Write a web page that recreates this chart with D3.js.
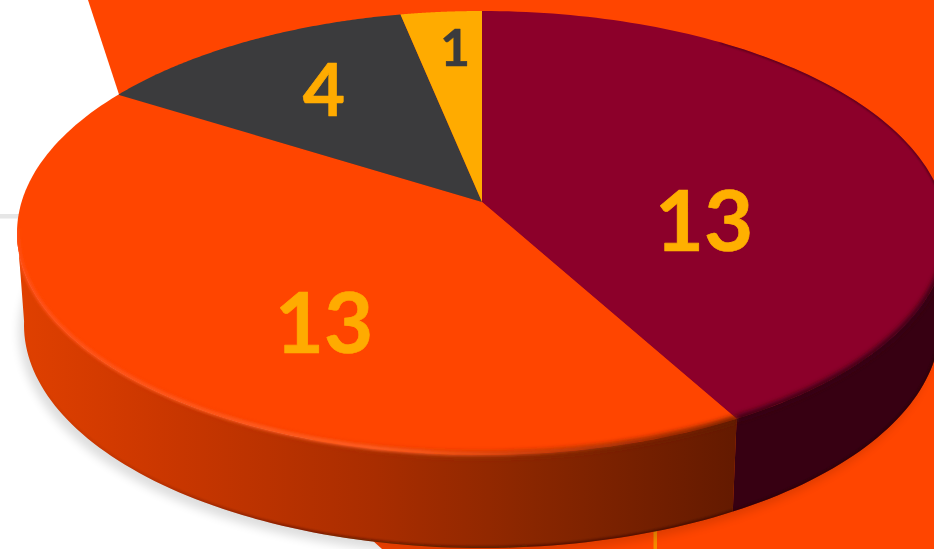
<!DOCTYPE html>
<html>
<head>
<meta charset="utf-8">
<style>
  html, body { margin: 0; padding: 0; background: #fff; overflow: hidden; }
  svg { display: block; }
  .lbl { font-family: Lato, sans-serif; font-weight: 700; text-anchor: middle; stroke-linejoin: round; }
</style>
</head>
<body>
<div id="chart"></div>
<script src="https://cdn.jsdelivr.net/npm/d3@7"></script>
<script>
// data
const categories = ['A', 'B', 'C', 'D'];
const values = [13, 13, 4, 1];

// styles, same order as the values
const topColors = ['#8c002a', '#ff4500', '#3b3b3d', '#ffab00'];
const labelColors = ['#ffb000', '#ffab00', '#ffab00', '#3b3b3d'];
const labelSizes = [85, 85, 73, 52];
const labelAt = [[704, 251], [324, 353], [324, 116], [455, 66]];

const width = 934, height = 549;

const svg = d3.select('#chart').append('svg')
    .attr('width', width)
    .attr('height', height);

const defs = svg.append('defs');

function blur(id, dev) {
    defs.append('filter')
        .attr('id', id)
        .attr('x', '-10%').attr('y', '-10%')
        .attr('width', '120%').attr('height', '120%')
        .append('feGaussianBlur')
        .attr('stdDeviation', dev);
}
blur('b1', 0.8);
blur('b15', 1.5);
blur('b2', 2.5);
blur('b5', 5);

function hGradient(id, stops) {
    const g = defs.append('linearGradient')
        .attr('id', id)
        .attr('gradientUnits', 'userSpaceOnUse')
        .attr('x1', 17).attr('x2', 733).attr('y1', 0).attr('y2', 0);
    stops.forEach(s => g.append('stop')
        .attr('offset', s[0])
        .attr('stop-color', s[1])
        .attr('stop-opacity', s[2] === undefined ? 1 : s[2]));
}
hGradient('sideOrange', [[0, '#e04000'], [0.2, '#cb3700'], [0.5, '#a92d00'], [0.72, '#892600'], [1, '#641a00']]);
hGradient('bevelFade', [[0, '#d23a00', 0], [0.45, '#b83200', 0.25], [0.7, '#892600', 0.9], [1, '#641a00', 1]]);
hGradient('shine', [[0, '#ff5015', 1], [0.5, '#ff6026', 1], [0.8, '#ff5a1c', 0.25], [1, '#ff5a1c', 0]]);
hGradient('edgeShade', [[0, '#3a0f00', 0], [0.2, '#3a0f00', 0.15], [0.5, '#3a0f00', 0.55], [1, '#2a0a00', 0.5]]);

// the disc is seen in perspective: the top face and the bottom face are two ellipses
const topX = d3.scaleLinear().domain([-1, 1]).range([17, 947]);
const topY = d3.scaleLinear().domain([-1, 1]).range([11, 455]);
const botX = d3.scaleLinear().domain([-1, 1]).range([24, 940]);
const botY = d3.scaleLinear().domain([-1, 1]).range([102, 548]);

// pie centre is pushed up the disc by this much
const tilt = 0.14;

function project(angle, r) {
    const x = Math.sin(angle) * r, y = -Math.cos(angle) * r;
    const d = 1 - tilt * y;
    return [x * Math.sqrt(1 - tilt * tilt) / d, (y - tilt) / d];
}

const pie = d3.pie().sort(null).value(d => d);
const arcs = pie(values);

function sampleArc(a) {
    return d3.range(0, 121).map(i => project(a.startAngle + (a.endAngle - a.startAngle) * i / 120, 1));
}

const topLine = d3.line().x(d => topX(d[0])).y(d => topY(d[1]));
const botLine = d3.line().x(d => botX(d[0])).y(d => botY(d[1]));

// what is left of the other chart behind this one
svg.append('rect')
    .attr('x', 0).attr('y', 214).attr('width', 30).attr('height', 4.5)
    .attr('fill', '#e6e6e6');
svg.append('path')
    .attr('d', 'M88,0L934,0L934,549L382,549L372,540L130,128Z')
    .attr('fill', '#ff4500');
svg.append('rect')
    .attr('x', 653.5).attr('y', 530).attr('width', 3.5).attr('height', 19)
    .attr('fill', '#f58a00');

// shadow under the disc
const allPts = sampleArc({ startAngle: 0, endAngle: 2 * Math.PI });
svg.append('path')
    .attr('d', botLine(allPts) + 'Z')
    .attr('transform', 'translate(-5,7)')
    .attr('fill', '#000')
    .attr('opacity', 0.13)
    .attr('filter', 'url(#b5)');

// side wall, only the part of each slice on the near half
const sideFill = ['#370012', 'url(#sideOrange)'];
const bevelFill = ['#370012', 'url(#bevelFade)'];
const nearPts = arcs.map(a => sampleArc(a).filter(p => p[1] >= -0.02));
const wallPath = pts => topLine(pts) + 'L' + botLine(pts.slice().reverse()).slice(1) + 'Z';

nearPts.forEach((pts, i) => {
    if (!pts.length) return;
    svg.append('path')
        .attr('d', wallPath(pts))
        .attr('fill', sideFill[i]);
});

// clip for the blurred strokes, so they stay on the disc
const wallClip = defs.append('clipPath').attr('id', 'wall');
const discClip = defs.append('clipPath').attr('id', 'disc');
nearPts.forEach(pts => {
    if (!pts.length) return;
    wallClip.append('path').attr('d', wallPath(pts));
    discClip.append('path').attr('d', wallPath(pts));
});
discClip.append('path').attr('d', topLine(allPts) + 'Z');

// dark edge along the bottom of the wall
svg.append('g').attr('clip-path', 'url(#wall)')
    .append('path')
    .attr('d', botLine(nearPts[0].concat(nearPts[1])))
    .attr('fill', 'none')
    .attr('stroke', 'url(#edgeShade)')
    .attr('stroke-width', 4)
    .attr('filter', 'url(#b1)');

// top face
svg.selectAll('path.slice')
    .data(arcs)
    .join('path')
    .attr('class', 'slice')
    .attr('fill', (d, i) => topColors[i])
    .attr('d', d => {
        const c = project(0, 0);
        return 'M' + topX(c[0]) + ',' + topY(c[1]) + 'L' + topLine(sampleArc(d)).slice(1) + 'Z';
    });

const bevel = svg.append('g').attr('clip-path', 'url(#disc)');

// soft bevel where top face meets the wall
nearPts.forEach((pts, i) => {
    if (!pts.length) return;
    bevel.append('path')
        .attr('d', topLine(pts.filter(p => p[1] > 0.12)))
        .attr('fill', 'none')
        .attr('stroke', bevelFill[i])
        .attr('stroke-width', 6)
        .attr('filter', 'url(#b2)');
});
bevel.append('path')
    .attr('d', topLine(nearPts[1]))
    .attr('transform', 'translate(0,-1)')
    .attr('fill', 'none')
    .attr('stroke', 'url(#shine)')
    .attr('stroke-width', 4)
    .attr('filter', 'url(#b15)');

// thin shade on the far rim of the big slice
bevel.append('path')
    .attr('d', topLine(sampleArc(arcs[0]).filter(p => p[1] < 0 && p[0] > 0.5)))
    .attr('fill', 'none')
    .attr('stroke', '#300010')
    .attr('stroke-width', 2)
    .attr('opacity', 0.7)
    .attr('filter', 'url(#b1)');

// labels
svg.selectAll('text.lbl')
    .data(values)
    .join('text')
    .attr('class', 'lbl')
    .attr('x', (d, i) => labelAt[i][0])
    .attr('y', (d, i) => labelAt[i][1])
    .attr('font-size', (d, i) => labelSizes[i])
    .attr('fill', (d, i) => labelColors[i])
    .attr('stroke', (d, i) => labelColors[i])
    .attr('stroke-width', (d, i) => labelSizes[i] * 0.008)
    .text(d => d);
</script>
</body>
</html>
